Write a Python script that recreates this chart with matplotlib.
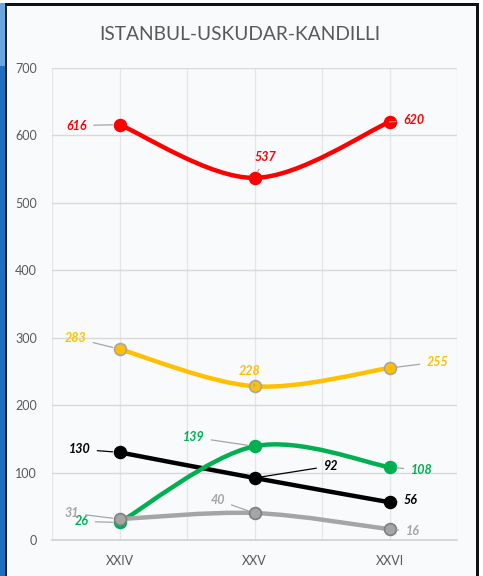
import numpy as np
import matplotlib.pyplot as plt
from matplotlib.path import Path
from matplotlib.patches import PathPatch, Rectangle

plt.rcParams['font.family'] = ['Lato', 'DejaVu Sans']

# ------------------------------------------------------------
# data
# ------------------------------------------------------------
categories = ['XXIV', 'XXV', 'XXVI']
red_vals = [616, 537, 620]
yellow_vals = [283, 228, 255]
green_vals = [26, 139, 108]
black_vals = [130, 92, 56]
gray_vals = [31, 40, 16]


def smooth_path(xs, ys):
    """Excel style smoothed line: bezier segments (catmull-rom control points)"""
    pts = np.column_stack([xs, ys]).astype(float)
    n = len(pts)
    verts = [pts[0]]
    codes = [Path.MOVETO]
    for i in range(n - 1):
        p_prev = pts[max(i - 1, 0)]
        p0 = pts[i]
        p1 = pts[i + 1]
        p_next = pts[min(i + 2, n - 1)]
        c1 = p0 + (p1 - p_prev) / 6.0
        c2 = p1 - (p_next - p0) / 6.0
        verts += [c1, c2, p1]
        codes += [Path.CURVE4] * 3
    return Path(verts, codes)


fig = plt.figure(figsize=(4.83, 5.76), dpi=100)
fig.patch.set_facecolor('#f9fafc')

# window decoration around the chart (screenshot frame)
fig.patches.append(Rectangle((0, 0), 5 / 483, 1, transform=fig.transFigure,
                             facecolor='#1f6fc0', edgecolor='none', zorder=0))
fig.patches.append(Rectangle((0, 1 - 66 / 576), 5 / 483, 66 / 576, transform=fig.transFigure,
                             facecolor='#6aa6de', edgecolor='none', zorder=0))
fig.patches.append(Rectangle((5 / 483, 0), 1.5 / 483, 1 - 4 / 576, transform=fig.transFigure,
                             facecolor='#222222', edgecolor='none', zorder=0))
fig.patches.append(Rectangle((5 / 483, 1 - 6 / 576), 474 / 483, 2.5 / 576, transform=fig.transFigure,
                             facecolor='#111111', edgecolor='none', zorder=0))
fig.patches.append(Rectangle((476 / 483, 0), 3 / 483, 1 - 4 / 576, transform=fig.transFigure,
                             facecolor='#111111', edgecolor='none', zorder=0))
fig.patches.append(Rectangle((479 / 483, 0), 4 / 483, 1, transform=fig.transFigure,
                             facecolor='#ffffff', edgecolor='none', zorder=0))
fig.patches.append(Rectangle((0, 1 - 3 / 576), 1, 3 / 576, transform=fig.transFigure,
                             facecolor='#ffffff', edgecolor='none', zorder=0))

ax = fig.add_axes([52 / 483, 36 / 576, 405 / 483, 472 / 576])
ax.set_facecolor('#f9fafc')
ax.set_xlim(-0.5, 2.5)
ax.set_ylim(0, 700)

# gridlines
for x in np.arange(-0.5, 2.6, 0.5):
    ax.axvline(x, color='#e6e6e6', lw=1, zorder=1)
for y in range(100, 701, 100):
    ax.axhline(y, color='#d9d9d9', lw=1, zorder=1)

for s in ['top', 'left', 'right']:
    ax.spines[s].set_visible(False)
ax.spines['bottom'].set_color('#d0d0d0')
ax.spines['bottom'].set_linewidth(1.2)

ax.set_xticks(range(len(categories)))
ax.set_xticklabels(categories)
ax.set_yticks(range(0, 701, 100))
ax.tick_params(length=0, colors='#595959', labelsize=9)
ax.tick_params(axis='y', pad=11)
ax.tick_params(axis='x', pad=11)

fig.text(240 / 483, 1 - 35 / 576, 'ISTANBUL-USKUDAR-KANDILLI', ha='center', va='center',
         fontsize=13.8, color='#595959')

xs = np.arange(len(categories))

# (values, line color, marker face, marker edge, label color, leader color, label offsets px)
series = [
    (red_vals, '#ff0000', '#ff0000', '#ff0000', '#ff0000', '#a5a5a5',
     [(-43, -1), (11, 21), (24, 2)]),
    (yellow_vals, '#ffc000', '#ffc000', '#a5a5a5', '#ffc000', '#a5a5a5',
     [(-44, 11), (-5, 15), (48, 6)]),
    (black_vals, '#000000', '#000000', '#000000', '#000000', '#000000',
     [(-40, 3), (76, 12), (21, 2)]),
    (green_vals, '#00b050', '#00b050', '#00b050', '#00b050', '#a5a5a5',
     [(-38, 1), (-61, 9), (32, -3)]),
    (gray_vals, '#a5a5a5', '#a5a5a5', '#7f7f7f', '#a5a5a5', '#a5a5a5',
     [(-48, 6), (-37, 13), (23, -2)]),
]

for k, (vals, lc, mfc, mec, tc, llc, offs) in enumerate(series):
    z = 3 + 2 * k
    patch = PathPatch(smooth_path(xs, vals), facecolor='none', edgecolor=lc,
                      lw=3.2, capstyle='round', joinstyle='round', zorder=z)
    ax.add_patch(patch)
    ax.plot(xs, vals, linestyle='none', marker='o', markersize=8.5,
            markerfacecolor=mfc, markeredgecolor=mec, markeredgewidth=1.2, zorder=z + 1)
    for x, v, (dx, dy) in zip(xs, vals, offs):
        show_leader = abs(dx) > 12 or abs(dy) > 12
        ax.annotate(str(v), xy=(x, v), xytext=(dx, dy), textcoords='offset pixels',
                    ha='center', va='center', fontsize=9, fontweight='bold',
                    fontstyle='italic', color=tc, zorder=20,
                    arrowprops=dict(arrowstyle='-', color=llc, lw=0.9,
                                    shrinkA=3, shrinkB=5) if show_leader else None)

plt.savefig('out.png', dpi=100, facecolor=fig.get_facecolor())
